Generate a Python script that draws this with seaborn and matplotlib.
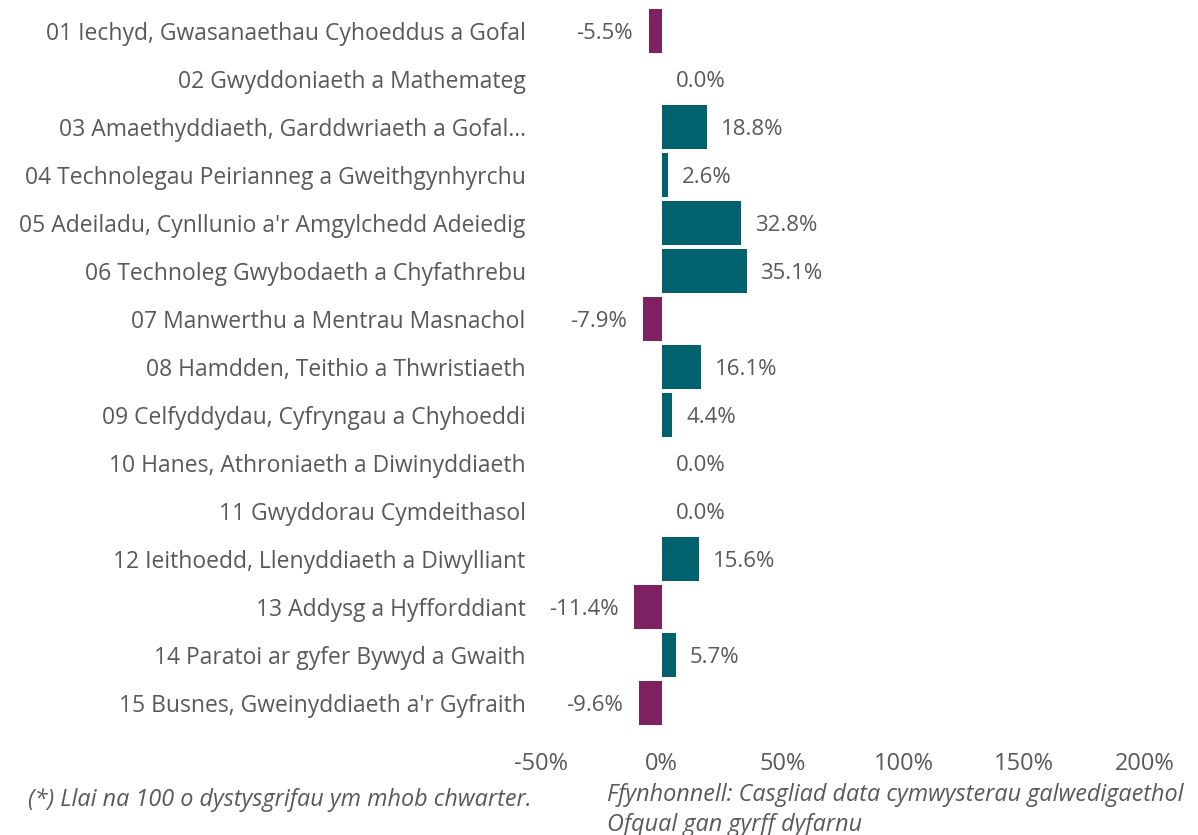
import matplotlib
matplotlib.use("Agg")
import matplotlib.pyplot as plt
import seaborn as sns
import pandas as pd
from matplotlib.ticker import FuncFormatter

categories = [
    "01 Iechyd, Gwasanaethau Cyhoeddus a Gofal",
    "02 Gwyddoniaeth a Mathemateg",
    "03 Amaethyddiaeth, Garddwriaeth a Gofal…",
    "04 Technolegau Peirianneg a Gweithgynhyrchu",
    "05 Adeiladu, Cynllunio a'r Amgylchedd Adeiedig",
    "06 Technoleg Gwybodaeth a Chyfathrebu",
    "07 Manwerthu a Mentrau Masnachol",
    "08 Hamdden, Teithio a Thwristiaeth",
    "09 Celfyddydau, Cyfryngau a Chyhoeddi",
    "10 Hanes, Athroniaeth a Diwinyddiaeth",
    "11 Gwyddorau Cymdeithasol",
    "12 Ieithoedd, Llenyddiaeth a Diwylliant",
    "13 Addysg a Hyfforddiant",
    "14 Paratoi ar gyfer Bywyd a Gwaith",
    "15 Busnes, Gweinyddiaeth a'r Gyfraith",
]
values = [-5.5, 0.0, 18.8, 2.6, 32.8, 35.1, -7.9, 16.1, 4.4, 0.0, 0.0, 15.6, -11.4, 5.7, -9.6]
x_ticks = [-50, 0, 50, 100, 150, 200]
footnote = "(*) Llai na 100 o dystysgrifau ym mhob chwarter."
source_lines = ["Ffynhonnell: Casgliad data cymwysterau galwedigaethol",
                "Ofqual gan gyrff dyfarnu"]

NEG = "#7E2160"
POS = "#00626F"
GREY = "#595959"

sns.set_theme(style="white")
plt.rcParams["font.family"] = ["Open Sans", "DejaVu Sans"]

df = pd.DataFrame({"cat": categories, "val": values})
df["sign"] = ["neg" if v < 0 else "pos" for v in values]

fig = plt.figure(figsize=(11.98, 8.35), dpi=100)
ax = fig.add_axes([541/1198, 1 - 727/835, (1145 - 541)/1198, (727 - 7)/835])

sns.barplot(data=df, x="val", y="cat", hue="sign", palette={"neg": NEG, "pos": POS},
            dodge=False, legend=False, width=0.92, linewidth=0, saturation=1,
            ax=ax, orient="h")

ax.set_xlim(-50, 200)
ax.set_ylim(len(categories) - 0.5, -0.5)
ax.set_xticks(x_ticks)
ax.xaxis.set_major_formatter(FuncFormatter(lambda v, p: f"{v:.0f}%"))
ax.set_xlabel("")
ax.set_ylabel("")
for s in ax.spines.values():
    s.set_visible(False)
ax.tick_params(axis="x", length=0, labelsize=17, colors=GREY, pad=18)
ax.tick_params(axis="y", length=0, labelsize=16.5, colors=GREY, pad=11)
for lbl in ax.get_yticklabels():
    lbl.set_verticalalignment("center_baseline")

for i, v in enumerate(values):
    txt = f"{v:.1f}%"
    if v < 0:
        ax.annotate(txt, (v, i), xytext=(-11, 0), textcoords="offset points",
                    ha="right", va="center_baseline", fontsize=16, color=GREY)
    else:
        ax.annotate(txt, (v, i), xytext=(10, 0), textcoords="offset points",
                    ha="left", va="center_baseline", fontsize=16, color=GREY)

fig.text(28/1198, 1 - 797/835, footnote, ha="left", va="center_baseline",
         fontsize=16.8, style="italic", color=GREY)
for k, line in enumerate(source_lines):
    fig.text(607/1198, 1 - (792 + 30 * k)/835, line, ha="left", va="center_baseline",
             fontsize=16.8, style="italic", color=GREY)

fig.savefig("out.png", dpi=100)
